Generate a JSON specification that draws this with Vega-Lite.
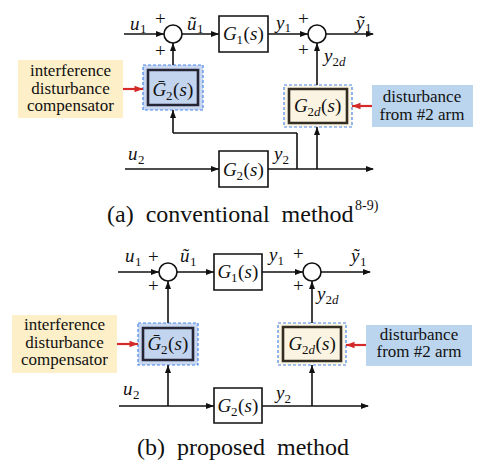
{
  "$schema": "https://vega.github.io/schema/vega-lite/v6.json",
  "width": 479,
  "height": 466,
  "autosize": "none",
  "padding": 0,
  "background": "white",
  "config": {"view": {"stroke": null}},
  "datasets": {
    "callouts": [
      {"x": 18, "x2": 123, "y": 60, "y2": 118, "kind": "note"},
      {"x": 372, "x2": 473, "y": 85, "y2": 127, "kind": "info"},
      {"x": 12, "x2": 117, "y": 315, "y2": 373, "kind": "note"},
      {"x": 366, "x2": 472, "y": 325, "y2": 366, "kind": "info"}
    ],
    "frames": [
      {"x": 143, "x2": 203, "y": 65, "y2": 110, "kind": "comp"},
      {"x": 284, "x2": 352, "y": 85, "y2": 127, "kind": "dist"},
      {"x": 138, "x2": 198, "y": 323, "y2": 365, "kind": "comp"},
      {"x": 278, "x2": 346, "y": 323, "y2": 365, "kind": "dist"}
    ],
    "blocks": [
      {"x": 148, "x2": 198, "y": 70, "y2": 105, "kind": "comp"},
      {"x": 289, "x2": 347, "y": 89, "y2": 123, "kind": "dist"},
      {"x": 219, "x2": 268, "y": 16, "y2": 52, "kind": "plain"},
      {"x": 219, "x2": 268, "y": 151, "y2": 187, "kind": "plain"},
      {"x": 143, "x2": 193, "y": 328, "y2": 360, "kind": "comp"},
      {"x": 283, "x2": 341, "y": 327, "y2": 361, "kind": "dist"},
      {"x": 214, "x2": 262, "y": 254, "y2": 290, "kind": "plain"},
      {"x": 214, "x2": 262, "y": 388, "y2": 423, "kind": "plain"}
    ],
    "wires": [
      {"x": 124, "y": 34, "x2": 164, "y2": 34, "kind": "sig"},
      {"x": 182, "y": 34, "x2": 219, "y2": 34, "kind": "sig"},
      {"x": 268, "y": 34, "x2": 308, "y2": 34, "kind": "sig"},
      {"x": 326, "y": 34, "x2": 373, "y2": 34, "kind": "sig"},
      {"x": 173, "y": 65, "x2": 173, "y2": 43, "kind": "sig"},
      {"x": 317, "y": 85, "x2": 317, "y2": 43, "kind": "sig"},
      {"x": 173, "y": 133, "x2": 173, "y2": 110, "kind": "sig"},
      {"x": 173, "y": 133, "x2": 297, "y2": 133, "kind": "sig"},
      {"x": 297, "y": 133, "x2": 297, "y2": 169, "kind": "sig"},
      {"x": 125, "y": 169, "x2": 219, "y2": 169, "kind": "sig"},
      {"x": 268, "y": 169, "x2": 373, "y2": 169, "kind": "sig"},
      {"x": 317, "y": 169, "x2": 317, "y2": 127, "kind": "sig"},
      {"x": 123, "y": 89, "x2": 143, "y2": 89, "kind": "red"},
      {"x": 372, "y": 106, "x2": 352, "y2": 106, "kind": "red"},
      {"x": 118, "y": 272, "x2": 159, "y2": 272, "kind": "sig"},
      {"x": 177, "y": 272, "x2": 214, "y2": 272, "kind": "sig"},
      {"x": 262, "y": 272, "x2": 303, "y2": 272, "kind": "sig"},
      {"x": 321, "y": 272, "x2": 370, "y2": 272, "kind": "sig"},
      {"x": 168, "y": 323, "x2": 168, "y2": 281, "kind": "sig"},
      {"x": 312, "y": 323, "x2": 312, "y2": 281, "kind": "sig"},
      {"x": 119, "y": 406, "x2": 214, "y2": 406, "kind": "sig"},
      {"x": 168, "y": 406, "x2": 168, "y2": 365, "kind": "sig"},
      {"x": 262, "y": 406, "x2": 368, "y2": 406, "kind": "sig"},
      {"x": 312, "y": 406, "x2": 312, "y2": 365, "kind": "sig"},
      {"x": 117, "y": 344, "x2": 138, "y2": 344, "kind": "red"},
      {"x": 366, "y": 345, "x2": 346, "y2": 345, "kind": "red"}
    ],
    "heads": [
      {"x": 164, "y": 34, "dir": "right", "kind": "sig"},
      {"x": 219, "y": 34, "dir": "right", "kind": "sig"},
      {"x": 308, "y": 34, "dir": "right", "kind": "sig"},
      {"x": 374, "y": 34, "dir": "right", "kind": "sig"},
      {"x": 173, "y": 43, "dir": "up", "kind": "sig"},
      {"x": 317, "y": 43, "dir": "up", "kind": "sig"},
      {"x": 173, "y": 110, "dir": "up", "kind": "sig"},
      {"x": 219, "y": 169, "dir": "right", "kind": "sig"},
      {"x": 374, "y": 169, "dir": "right", "kind": "sig"},
      {"x": 317, "y": 127, "dir": "up", "kind": "sig"},
      {"x": 143, "y": 89, "dir": "right", "kind": "red"},
      {"x": 352, "y": 106, "dir": "left", "kind": "red"},
      {"x": 159, "y": 272, "dir": "right", "kind": "sig"},
      {"x": 214, "y": 272, "dir": "right", "kind": "sig"},
      {"x": 303, "y": 272, "dir": "right", "kind": "sig"},
      {"x": 371, "y": 272, "dir": "right", "kind": "sig"},
      {"x": 168, "y": 281, "dir": "up", "kind": "sig"},
      {"x": 312, "y": 281, "dir": "up", "kind": "sig"},
      {"x": 214, "y": 406, "dir": "right", "kind": "sig"},
      {"x": 168, "y": 365, "dir": "up", "kind": "sig"},
      {"x": 369, "y": 406, "dir": "right", "kind": "sig"},
      {"x": 312, "y": 365, "dir": "up", "kind": "sig"},
      {"x": 138, "y": 344, "dir": "right", "kind": "red"},
      {"x": 346, "y": 345, "dir": "left", "kind": "red"}
    ],
    "junctions": [
      {"x": 173, "y": 34},
      {"x": 317, "y": 34},
      {"x": 168, "y": 272},
      {"x": 312, "y": 272}
    ],
    "labels": [
      {"t": "u", "x": 130, "y": 30, "role": "it"},
      {"t": "ũ", "x": 187, "y": 30, "role": "it"},
      {"t": "G", "x": 223, "y": 40, "role": "it"},
      {"t": "s", "x": 250, "y": 40, "role": "it"},
      {"t": "y", "x": 276, "y": 29, "role": "it"},
      {"t": "ỹ", "x": 356, "y": 29, "role": "it"},
      {"t": "y", "x": 324, "y": 62, "role": "it"},
      {"t": "Ḡ", "x": 152.5, "y": 96, "role": "it"},
      {"t": "s", "x": 179.5, "y": 96, "role": "it"},
      {"t": "G", "x": 294, "y": 112, "role": "it"},
      {"t": "s", "x": 327.5, "y": 112, "role": "it"},
      {"t": "u", "x": 128, "y": 160, "role": "it"},
      {"t": "G", "x": 223, "y": 175.5, "role": "it"},
      {"t": "s", "x": 250, "y": 175.5, "role": "it"},
      {"t": "y", "x": 274, "y": 160, "role": "it"},
      {"t": "(", "x": 243.5, "y": 40, "role": "up"},
      {"t": ")", "x": 257.5, "y": 40, "role": "up"},
      {"t": "(", "x": 173, "y": 96, "role": "up"},
      {"t": ")", "x": 187, "y": 96, "role": "up"},
      {"t": "(", "x": 321, "y": 112, "role": "up"},
      {"t": ")", "x": 335, "y": 112, "role": "up"},
      {"t": "(", "x": 243.5, "y": 175.5, "role": "up"},
      {"t": ")", "x": 257.5, "y": 175.5, "role": "up"},
      {"t": "+", "x": 155, "y": 25, "role": "up"},
      {"t": "+", "x": 155, "y": 57, "role": "up"},
      {"t": "+", "x": 298, "y": 25, "role": "up"},
      {"t": "+", "x": 298, "y": 56, "role": "up"},
      {"t": "1", "x": 140, "y": 33, "role": "sub"},
      {"t": "1", "x": 197, "y": 33, "role": "sub"},
      {"t": "1", "x": 236.5, "y": 44, "role": "sub"},
      {"t": "1", "x": 284.5, "y": 32, "role": "sub"},
      {"t": "1", "x": 365, "y": 32, "role": "sub"},
      {"t": "2", "x": 332.5, "y": 66, "role": "sub"},
      {"t": "2", "x": 166, "y": 100, "role": "sub"},
      {"t": "2", "x": 307.5, "y": 116, "role": "sub"},
      {"t": "2", "x": 138, "y": 164, "role": "sub"},
      {"t": "2", "x": 236.5, "y": 179.5, "role": "sub"},
      {"t": "2", "x": 282.5, "y": 164, "role": "sub"},
      {"t": "d", "x": 339, "y": 66, "role": "isub"},
      {"t": "d", "x": 314, "y": 116, "role": "isub"},
      {"t": "interference", "x": 70.5, "y": 76, "role": "note"},
      {"t": "disturbance", "x": 70.5, "y": 93.5, "role": "note"},
      {"t": "compensator", "x": 70.5, "y": 111, "role": "note"},
      {"t": "disturbance", "x": 422, "y": 102, "role": "note"},
      {"t": "from #2 arm", "x": 422, "y": 119.5, "role": "note"},
      {"t": "(a)\u00a0 conventional\u00a0 method", "x": 107, "y": 222, "role": "cap"},
      {"t": "8-9)", "x": 355, "y": 210, "role": "sup"},
      {"t": "u", "x": 125, "y": 262, "role": "it"},
      {"t": "ũ", "x": 180, "y": 262, "role": "it"},
      {"t": "G", "x": 217.5, "y": 278, "role": "it"},
      {"t": "s", "x": 244.5, "y": 278, "role": "it"},
      {"t": "y", "x": 269, "y": 261, "role": "it"},
      {"t": "ỹ", "x": 351, "y": 262, "role": "it"},
      {"t": "y", "x": 317, "y": 300, "role": "it"},
      {"t": "Ḡ", "x": 147.5, "y": 350, "role": "it"},
      {"t": "s", "x": 174.5, "y": 350, "role": "it"},
      {"t": "G", "x": 288.5, "y": 350, "role": "it"},
      {"t": "s", "x": 322, "y": 350, "role": "it"},
      {"t": "u", "x": 123, "y": 395, "role": "it"},
      {"t": "G", "x": 217.5, "y": 412, "role": "it"},
      {"t": "s", "x": 244.5, "y": 412, "role": "it"},
      {"t": "y", "x": 276, "y": 399, "role": "it"},
      {"t": "(", "x": 238, "y": 278, "role": "up"},
      {"t": ")", "x": 252, "y": 278, "role": "up"},
      {"t": "(", "x": 168, "y": 350, "role": "up"},
      {"t": ")", "x": 182, "y": 350, "role": "up"},
      {"t": "(", "x": 315.5, "y": 350, "role": "up"},
      {"t": ")", "x": 329.5, "y": 350, "role": "up"},
      {"t": "(", "x": 238, "y": 412, "role": "up"},
      {"t": ")", "x": 252, "y": 412, "role": "up"},
      {"t": "+", "x": 148, "y": 263, "role": "up"},
      {"t": "+", "x": 148, "y": 292, "role": "up"},
      {"t": "+", "x": 293, "y": 260, "role": "up"},
      {"t": "+", "x": 293, "y": 292, "role": "up"},
      {"t": "1", "x": 135, "y": 266, "role": "sub"},
      {"t": "1", "x": 190, "y": 266, "role": "sub"},
      {"t": "1", "x": 231, "y": 282, "role": "sub"},
      {"t": "1", "x": 277.5, "y": 265, "role": "sub"},
      {"t": "1", "x": 360, "y": 266, "role": "sub"},
      {"t": "2", "x": 325.5, "y": 304, "role": "sub"},
      {"t": "2", "x": 161, "y": 354, "role": "sub"},
      {"t": "2", "x": 302, "y": 354, "role": "sub"},
      {"t": "2", "x": 133, "y": 399, "role": "sub"},
      {"t": "2", "x": 231, "y": 416, "role": "sub"},
      {"t": "2", "x": 284.5, "y": 403, "role": "sub"},
      {"t": "d", "x": 332, "y": 304, "role": "isub"},
      {"t": "d", "x": 308.5, "y": 354, "role": "isub"},
      {"t": "interference", "x": 64.5, "y": 330, "role": "note"},
      {"t": "disturbance", "x": 64.5, "y": 347.5, "role": "note"},
      {"t": "compensator", "x": 64.5, "y": 365, "role": "note"},
      {"t": "disturbance", "x": 419, "y": 339.5, "role": "note"},
      {"t": "from #2 arm", "x": 419, "y": 357, "role": "note"},
      {"t": "(b)\u00a0 proposed\u00a0 method", "x": 137, "y": 455, "role": "cap"}
    ]
  },
  "encoding": {
    "x": {"field": "x", "type": "quantitative", "scale": {"domain": [0, 479], "nice": false, "zero": false}, "axis": null},
    "y": {"field": "y", "type": "quantitative", "scale": {"domain": [0, 466], "nice": false, "zero": false, "reverse": true}, "axis": null}
  },
  "layer": [
    {
      "data": {"name": "callouts"},
      "mark": {"type": "rect", "fill": "#bdbdbd", "opacity": 0.55, "xOffset": 3, "yOffset": 3},
      "encoding": {"x2": {"field": "x2"}, "y2": {"field": "y2"}}
    },
    {
      "data": {"name": "callouts"},
      "transform": [{"filter": "datum.kind === 'note'"}],
      "mark": {"type": "rect", "fill": "#fdf0c9"},
      "encoding": {"x2": {"field": "x2"}, "y2": {"field": "y2"}}
    },
    {
      "data": {"name": "callouts"},
      "transform": [{"filter": "datum.kind === 'info'"}],
      "mark": {"type": "rect", "fill": "#bcd5ee"},
      "encoding": {"x2": {"field": "x2"}, "y2": {"field": "y2"}}
    },
    {
      "data": {"name": "frames"},
      "transform": [{"filter": "datum.kind === 'comp'"}],
      "mark": {"type": "rect", "fill": "#c9d8f0", "stroke": "#4a86e8", "strokeWidth": 1.2, "strokeDash": [3, 2]},
      "encoding": {"x2": {"field": "x2"}, "y2": {"field": "y2"}}
    },
    {
      "data": {"name": "frames"},
      "transform": [{"filter": "datum.kind === 'dist'"}],
      "mark": {"type": "rect", "fill": "#fcf6e6", "stroke": "#4a86e8", "strokeWidth": 1.2, "strokeDash": [3, 2]},
      "encoding": {"x2": {"field": "x2"}, "y2": {"field": "y2"}}
    },
    {
      "data": {"name": "blocks"},
      "transform": [{"filter": "datum.kind === 'comp'"}],
      "mark": {"type": "rect", "fill": "#c3d4ee", "stroke": "#252535", "strokeWidth": 2.6},
      "encoding": {"x2": {"field": "x2"}, "y2": {"field": "y2"}}
    },
    {
      "data": {"name": "blocks"},
      "transform": [{"filter": "datum.kind === 'dist'"}],
      "mark": {"type": "rect", "fill": "#fbf4e2", "stroke": "#332d22", "strokeWidth": 2.6},
      "encoding": {"x2": {"field": "x2"}, "y2": {"field": "y2"}}
    },
    {
      "data": {"name": "blocks"},
      "transform": [{"filter": "datum.kind === 'plain'"}],
      "mark": {"type": "rect", "fill": "white", "stroke": "#111111", "strokeWidth": 1.6},
      "encoding": {"x2": {"field": "x2"}, "y2": {"field": "y2"}}
    },
    {
      "data": {"name": "wires"},
      "transform": [{"filter": "datum.kind === 'sig'"}],
      "mark": {"type": "rule", "color": "#111111", "strokeWidth": 1.6},
      "encoding": {"x2": {"field": "x2"}, "y2": {"field": "y2"}}
    },
    {
      "data": {"name": "wires"},
      "transform": [{"filter": "datum.kind === 'red'"}],
      "mark": {"type": "rule", "color": "#d42a2a", "strokeWidth": 2.2},
      "encoding": {"x2": {"field": "x2"}, "y2": {"field": "y2"}}
    },
    {
      "data": {"name": "heads"},
      "transform": [{"filter": "datum.kind === 'sig'"}],
      "mark": {"type": "point", "filled": true, "color": "#111111", "opacity": 1, "size": 64, "strokeWidth": 0},
      "encoding": {
        "shape": {"field": "dir", "type": "nominal", "legend": null,
          "scale": {"domain": ["right", "left", "up"], "range": ["M0,0L-2,-0.75L-2,0.75Z", "M0,0L2,-0.75L2,0.75Z", "M0,0L-0.75,2L0.75,2Z"]}}
      }
    },
    {
      "data": {"name": "heads"},
      "transform": [{"filter": "datum.kind === 'red'"}],
      "mark": {"type": "point", "filled": true, "color": "#d42a2a", "opacity": 1, "size": 72, "strokeWidth": 0},
      "encoding": {
        "shape": {"field": "dir", "type": "nominal", "legend": null,
          "scale": {"domain": ["right", "left", "up"], "range": ["M0,0L-2,-0.75L-2,0.75Z", "M0,0L2,-0.75L2,0.75Z", "M0,0L-0.75,2L0.75,2Z"]}}
      }
    },
    {
      "data": {"name": "junctions"},
      "mark": {"type": "point", "shape": "circle", "size": 324, "fill": "white", "filled": false, "stroke": "#111111", "strokeWidth": 1.6, "opacity": 1}
    },
    {
      "data": {"name": "labels"},
      "transform": [{"filter": "datum.role === 'it'"}],
      "mark": {"type": "text", "font": "Liberation Serif", "fontStyle": "italic", "fontSize": 19, "align": "left", "baseline": "alphabetic", "color": "#111111"},
      "encoding": {"text": {"field": "t"}}
    },
    {
      "data": {"name": "labels"},
      "transform": [{"filter": "datum.role === 'up'"}],
      "mark": {"type": "text", "font": "Liberation Serif", "fontSize": 19, "align": "left", "baseline": "alphabetic", "color": "#111111"},
      "encoding": {"text": {"field": "t"}}
    },
    {
      "data": {"name": "labels"},
      "transform": [{"filter": "datum.role === 'sub'"}],
      "mark": {"type": "text", "font": "Liberation Serif", "fontSize": 13, "align": "left", "baseline": "alphabetic", "color": "#111111"},
      "encoding": {"text": {"field": "t"}}
    },
    {
      "data": {"name": "labels"},
      "transform": [{"filter": "datum.role === 'isub'"}],
      "mark": {"type": "text", "font": "Liberation Serif", "fontStyle": "italic", "fontSize": 13, "align": "left", "baseline": "alphabetic", "color": "#111111"},
      "encoding": {"text": {"field": "t"}}
    },
    {
      "data": {"name": "labels"},
      "transform": [{"filter": "datum.role === 'note'"}],
      "mark": {"type": "text", "font": "Liberation Serif", "fontSize": 17, "align": "center", "baseline": "alphabetic", "color": "#111111"},
      "encoding": {"text": {"field": "t"}}
    },
    {
      "data": {"name": "labels"},
      "transform": [{"filter": "datum.role === 'cap'"}],
      "mark": {"type": "text", "font": "Liberation Serif", "fontSize": 24, "align": "left", "baseline": "alphabetic", "color": "#111111"},
      "encoding": {"text": {"field": "t"}}
    },
    {
      "data": {"name": "labels"},
      "transform": [{"filter": "datum.role === 'sup'"}],
      "mark": {"type": "text", "font": "Liberation Serif", "fontSize": 14, "align": "left", "baseline": "alphabetic", "color": "#111111"},
      "encoding": {"text": {"field": "t"}}
    }
  ]
}
